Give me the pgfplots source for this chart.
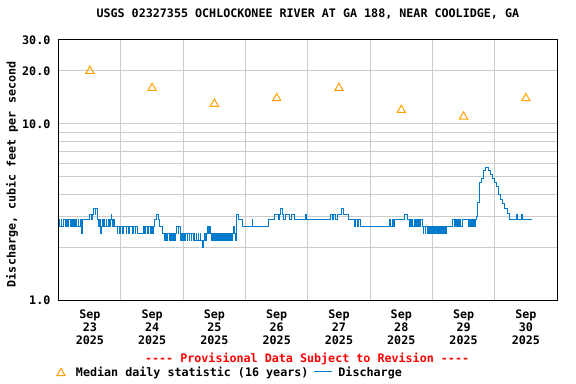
\documentclass[border=0pt]{standalone}
\usepackage{fontspec}
\setmainfont{DejaVu Sans Mono}[Ligatures=TeXOff]
\usepackage{pgfplots}
\usepackage{pgfplotstable}
\pgfplotsset{compat=1.18}
\definecolor{qblue}{RGB}{0,122,204}
\definecolor{qorange}{RGB}{255,160,0}
\definecolor{qgrid}{RGB}{204,204,204}
\newcommand{\cf}{\fontsize{11.7bp}{13bp}\selectfont\bfseries}

\pgfplotstableread{
h v
12 20
36 16
60 13
84 14
108 16
132 12
156 11
180 14
}\mediantab

\pgfplotstableread{
h v
0 2.85
0.5 2.61
1 2.85
1.25 2.61
1.75 2.85
2.5 2.61
3 2.85
3.5 2.61
3.75 2.85
4.5 2.61
5 2.85
5.25 2.61
5.75 2.85
6 2.61
6.5 2.85
6.75 2.61
7.5 2.85
7.75 2.61
8.25 2.85
8.75 2.40
9 2.85
12 3.08
12.75 2.85
13 3.08
13.3 3.33
14 3.08
14.25 3.33
14.8 3.08
15 2.85
15.5 2.61
15.75 2.85
16.25 2.40
16.5 2.61
17 2.85
17.25 2.61
17.5 2.85
17.8 2.61
18.25 2.85
18.5 2.61
19 2.85
19.5 2.61
20 2.85
20.25 3.08
20.5 2.85
20.75 2.61
21.25 2.85
21.5 2.61
22.5 2.40
22.75 2.61
23.5 2.40
23.75 2.61
24.75 2.40
25 2.61
26 2.40
26.25 2.61
27 2.40
27.25 2.61
28.5 2.40
28.75 2.61
29.5 2.40
29.75 2.61
30.2 2.40
32.5 2.61
33.25 2.40
33.5 2.61
34.25 2.40
34.5 2.61
35.5 2.40
35.75 2.61
36.25 2.40
36.5 2.61
37.1 2.85
37.6 3.08
38.3 2.85
38.8 2.61
40 2.40
40.75 2.18
41 2.40
41.5 2.18
41.75 2.40
42.5 2.18
42.75 2.40
43.25 2.18
43.5 2.40
44 2.18
44.25 2.40
44.75 2.18
45 2.40
45.5 2.61
46 2.40
46.25 2.61
46.75 2.40
47 2.18
47.5 2.40
47.75 2.18
48.25 2.40
48.5 2.18
49 2.40
49.5 2.18
49.75 2.40
50.25 2.18
50.5 2.40
51 2.18
51.25 2.40
51.75 2.18
52 2.40
52.5 2.18
53 2.40
53.25 2.18
53.75 2.40
54 2.18
54.5 2.40
54.75 2.18
55.5 1.98
55.75 2.18
56.25 2.40
56.5 2.18
57 2.40
57.5 2.61
57.75 2.40
58.25 2.61
58.5 2.40
59 2.18
59.25 2.40
59.75 2.18
60 2.40
60.5 2.18
60.75 2.40
61.25 2.18
61.5 2.40
62 2.18
62.5 2.40
62.75 2.18
63.25 2.40
63.5 2.18
64 2.40
64.25 2.18
64.75 2.40
65 2.18
65.5 2.40
66 2.18
66.25 2.40
66.75 2.18
67 2.40
67.5 2.61
67.75 2.40
68.25 2.18
68.6 3.08
69.2 2.85
71 2.61
74.5 2.85
74.8 2.61
80.7 2.85
83.3 3.08
84.5 2.85
85 3.08
85.6 3.33
86.1 3.08
86.5 2.85
87.2 3.08
89.1 2.85
89.8 3.08
91 2.85
95.2 3.08
95.6 2.85
104.9 3.08
105.4 2.85
105.8 3.08
106.8 2.85
107.6 3.08
108.8 3.33
109.8 3.08
111.5 2.85
113.8 2.61
114.3 2.85
115 2.61
115.5 2.85
116.1 2.61
127.6 2.85
128 2.61
128.5 2.85
129 2.61
129.5 2.85
133.4 3.08
134.5 2.85
135 2.61
135.5 2.85
135.75 2.61
136.25 2.85
136.5 2.61
137 2.85
137.5 2.61
137.75 2.85
138.25 2.61
138.75 2.85
139 2.61
139.5 2.85
140 2.61
140.5 2.40
140.75 2.61
141.25 2.40
141.5 2.61
142 2.40
142.5 2.61
142.75 2.40
143.25 2.61
143.5 2.40
144 2.61
144.25 2.40
144.75 2.61
145 2.40
145.5 2.61
146 2.40
146.25 2.61
146.75 2.40
147 2.61
147.5 2.40
148 2.61
148.25 2.40
148.75 2.61
149 2.40
149.6 2.61
151.9 2.85
152.4 2.61
152.75 2.85
153.25 2.61
153.5 2.85
154 2.61
154.25 2.85
154.75 2.61
155.5 2.85
157.8 2.61
158.25 2.85
158.5 2.61
159 2.85
159.25 2.61
159.75 2.85
160.25 2.61
160.5 2.85
161.1 2.97
161.5 3.58
162.1 4.00
162.3 4.66
163 4.87
163.6 5.42
164.3 5.68
165.6 5.42
166.2 5.15
167.1 4.87
167.8 4.66
168.7 4.40
169.3 4.00
170.1 3.70
170.9 3.54
171.9 3.33
173 3.10
173.8 2.85
176.3 3.08
176.8 2.85
178.2 3.08
178.7 2.85
182.5 2.85
}\qtab

\begin{document}
\begin{tikzpicture}
\path[use as bounding box] (-58.7bp,-84bp) rectangle (517.3bp,300bp);
\begin{axis}[
  at={(0,0)}, anchor=south west,
  scale only axis, width=498.3bp, height=260bp,
  xmin=0, xmax=192,
  ymode=log, ymin=1, ymax=30,
  xtick={12,36,60,84,108,132,156,180},
  xticklabels={{Sep\\23\\2025},{Sep\\24\\2025},{Sep\\25\\2025},{Sep\\26\\2025},{Sep\\27\\2025},{Sep\\28\\2025},{Sep\\29\\2025},{Sep\\30\\2025}},
  xticklabel style={align=center, font=\cf, yshift=-6.5bp},
  minor xtick={24,48,72,96,120,144,168},
  xminorgrids,
  ytick={1,10,20,30},
  yticklabels={1.0,10.0,20.0,30.0},
  yticklabel style={font=\cf, xshift=-4.8bp},
  minor ytick={2,3,4,5,6,7,8,9},
  yminorgrids, ymajorgrids,
  major tick length=0pt, minor tick length=0pt,
  grid style={qgrid, line width=1bp},
  minor grid style={qgrid, line width=1bp},
  axis line style={black, line width=1bp},
  /pgf/number format/assume math mode=true,
  title={USGS 02327355 OCHLOCKONEE RIVER AT GA 188, NEAR COOLIDGE, GA},
  title style={font=\cf, at={(axis description cs:0.5,1)}, anchor=base, yshift=16.7bp},
  ylabel={Discharge, cubic feet per second},
  ylabel style={font=\cf, at={(axis description cs:-0.0937,0.483)}, anchor=center},
  legend columns=2,
  legend style={draw=none, fill=none, inner sep=0pt, outer sep=0pt,
    anchor=west, at={(axis description cs:-0.00642,-0.2769)}, font=\cf,
    nodes={inner xsep=0pt},
    /tikz/column 1/.style={column sep=9.5bp},
    /tikz/column 2/.style={column sep=5bp},
    /tikz/column 3/.style={column sep=6bp}},
  clip=false,
]
\addplot[only marks, mark=triangle, mark size=4.8bp, qorange, line width=1bp,
  legend image code/.code={\path (0bp,0bp) (10bp,0bp); \draw[qorange, line width=1bp, mark=triangle, mark size=4.8bp] plot coordinates {(5bp,-1.3bp)};}]
  table[x=h, y=v] {\mediantab};
\addlegendentry{Median daily statistic (16 years)}
\addplot[const plot, qblue, line width=1bp,
  legend image code/.code={\draw[qblue, line width=1bp] (0bp,0bp) -- (18bp,0bp);}]
  table[x=h, y=v] {\qtab};
\addlegendentry{Discharge}
\node[font=\cf, text=red, anchor=base] at (axis description cs:0.4985,-0.2423) {---- Provisional Data Subject to Revision ----};
\end{axis}
\end{tikzpicture}
\end{document}
